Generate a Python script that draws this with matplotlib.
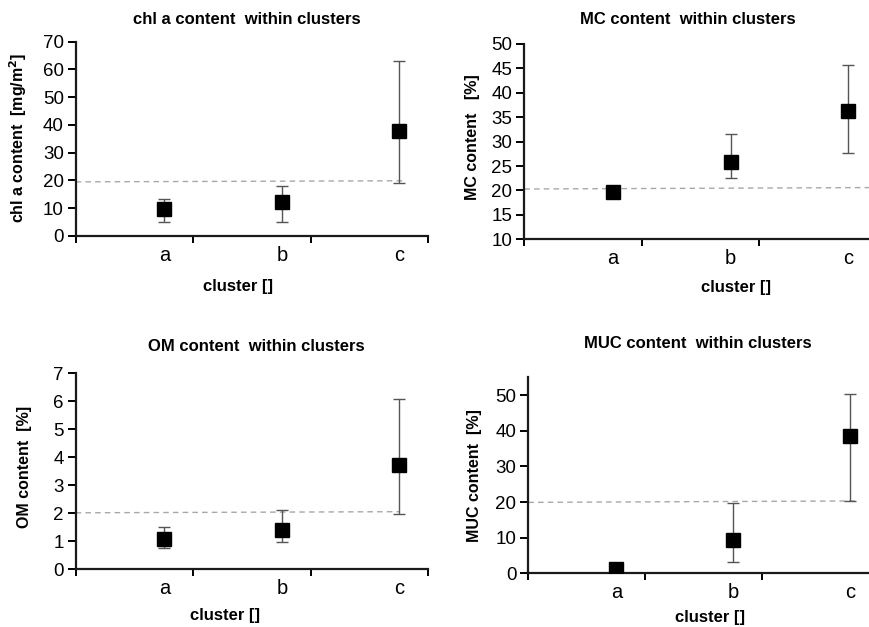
import numpy as np
import matplotlib
matplotlib.use('Agg')
from matplotlib import pyplot as plt

plt.rcParams['font.family'] = ['Liberation Sans', 'DejaVu Sans']

clusters = ['a', 'b', 'c']

# chl a content [mg/m2]
chla_mean = [9.6, 12.1, 37.9]
chla_low = [5.2, 5.2, 19.0]
chla_high = [13.4, 18.1, 63.0]
chla_ref = [19.5, 19.9]

# MC content [%]
mc_mean = [19.6, 25.8, 36.3]
mc_low = [19.2, 22.6, 27.7]
mc_high = [20.1, 31.6, 45.8]
mc_ref = [20.3, 20.6]

# OM content [%]
om_mean = [1.07, 1.41, 3.71]
om_low = [0.74, 0.98, 1.97]
om_high = [1.50, 2.10, 6.07]
om_ref = [2.01, 2.05]

# MUC content [%]
muc_mean = [1.1, 9.3, 38.4]
muc_low = [0.8, 3.1, 20.3]
muc_high = [1.4, 19.6, 50.4]
muc_ref = [19.9, 20.3]

W, H = 870, 627

def fx(px):
    return px / W

def fy(py):
    return 1 - py / H

def draw_panel(rect, mean, low, high, ref, ref_end, ylim, yticks):
    ax = fig.add_axes(rect)
    pos = np.arange(len(clusters)) + 0.755
    ax.plot([0, ref_end], ref, ls=(0, (4, 3)), color='#a8a8a8', lw=1, zorder=1)
    err = [np.subtract(mean, low), np.subtract(high, mean)]
    ax.errorbar(pos, mean, yerr=err, fmt='s', ms=10, mfc='black', mec='black',
                ecolor='#555555', elinewidth=1, capsize=4.5, capthick=1, zorder=3)
    ax.set_xlim(0, 3)
    ax.set_ylim(*ylim)
    ax.set_yticks(yticks)
    ax.set_xticks([0, 1, 2, 3])
    ax.set_xticklabels([])
    ax.set_xticks(pos, minor=True)
    ax.set_xticklabels(clusters, minor=True, fontsize=14.5)
    ax.tick_params(axis='x', which='major', length=5, width=1.4, direction='out')
    ax.tick_params(axis='x', which='minor', length=0, pad=7)
    ax.tick_params(axis='y', length=6, width=1.4, direction='out', labelsize=13.5, pad=2.5)
    for s in ['top', 'right']:
        ax.spines[s].set_visible(False)
    for s in ['left', 'bottom']:
        ax.spines[s].set_linewidth(1.6)
        ax.spines[s].set_color('#1a1a1a')
    return ax

fig = plt.figure(figsize=(W / 100, H / 100), dpi=100)

# top left
draw_panel([fx(75.7), fy(236), 352.5 / W, 194.3 / H], chla_mean, chla_low, chla_high,
           chla_ref, 2.80, (0, 70), range(0, 71, 10))
fig.text(fx(247), fy(20), 'chl a content  within clusters', ha='center', va='center',
         fontsize=12, fontweight='bold')
fig.text(fx(18), fy(138), 'chl a content  [mg/m$^\\mathbf{2}$]', ha='center', va='center',
         rotation=90, fontsize=11.5, fontweight='bold')
fig.text(fx(238), fy(287), 'cluster []', ha='center', va='center', fontsize=12, fontweight='bold')

# top right
draw_panel([fx(524.3), fy(239.3), 352.5 / W, 195.3 / H], mc_mean, mc_low, mc_high,
           mc_ref, 3.0, (10, 50), range(10, 51, 5))
fig.text(fx(687.5), fy(20), 'MC content  within clusters', ha='center', va='center',
         fontsize=12, fontweight='bold')
fig.text(fx(473), fy(137.5), 'MC content   [%]', ha='center', va='center',
         rotation=90, fontsize=11.5, fontweight='bold')
fig.text(fx(736), fy(288), 'cluster []', ha='center', va='center', fontsize=12, fontweight='bold')

# bottom left
draw_panel([fx(75.7), fy(569), 352.5 / W, 195.7 / H], om_mean, om_low, om_high,
           om_ref, 2.76, (0, 7), range(0, 8))
fig.text(fx(256), fy(346.7), 'OM content  within clusters', ha='center', va='center',
         fontsize=12, fontweight='bold')
fig.text(fx(25), fy(466.7), 'OM content  [%]', ha='center', va='center',
         rotation=90, fontsize=11.5, fontweight='bold')
fig.text(fx(225), fy(615.5), 'cluster []', ha='center', va='center', fontsize=12, fontweight='bold')

# bottom right
draw_panel([fx(528.3), fy(573.3), 350 / W, 196 / H], muc_mean, muc_low, muc_high,
           muc_ref, 2.81, (0, 55), range(0, 51, 10))
fig.text(fx(698), fy(343), 'MUC content  within clusters', ha='center', va='center',
         fontsize=12, fontweight='bold')
fig.text(fx(475), fy(475.8), 'MUC content  [%]', ha='center', va='center',
         rotation=90, fontsize=11.5, fontweight='bold')
fig.text(fx(710), fy(617.5), 'cluster []', ha='center', va='center', fontsize=12, fontweight='bold')

fig.savefig('out.png', dpi=100)
